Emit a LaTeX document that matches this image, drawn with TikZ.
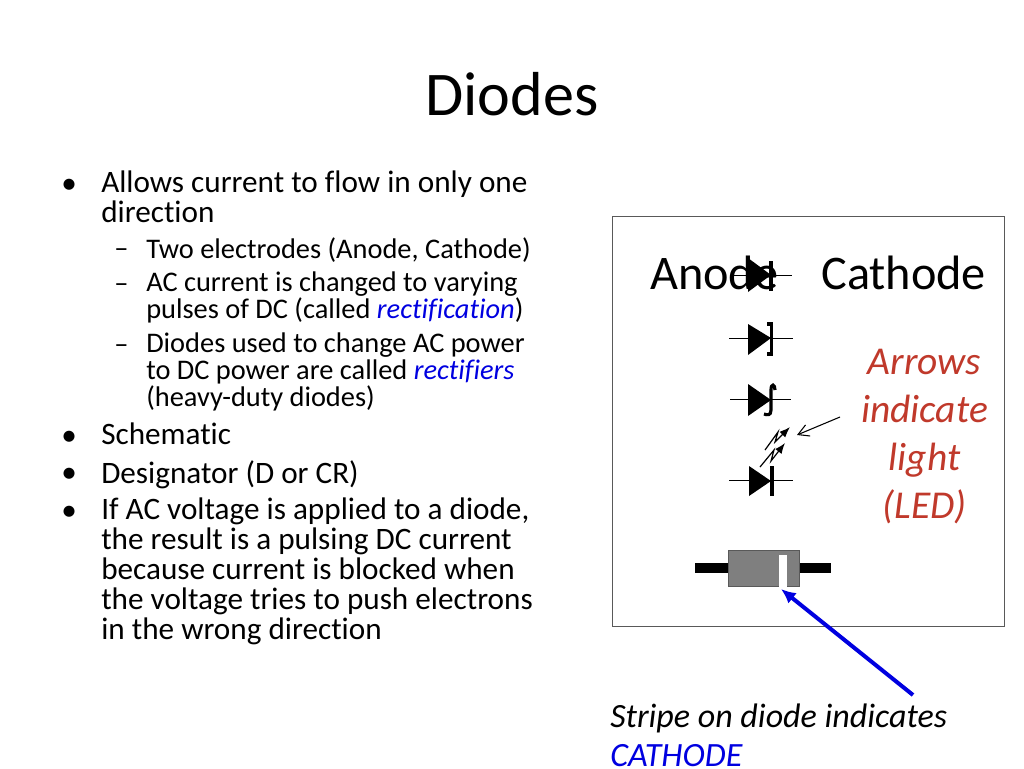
\documentclass[tikz,border=0pt]{standalone}
\usepackage{fontspec}
\setmainfont[Ligatures=NoCommon]{Carlito}
\usetikzlibrary{positioning,arrows.meta}
\definecolor{boxline}{HTML}{595959}
\definecolor{bodygray}{HTML}{7F7F7F}
\definecolor{redtext}{HTML}{C0392B}
\definecolor{bluetext}{HTML}{0000E0}
\tikzset{
	lvlone/.style={anchor=north west, inner sep=0pt, align=left, font=\fontsize{23.4}{22.5}\selectfont},
	lvltwo/.style={anchor=north west, inner sep=0pt, align=left, font=\fontsize{21.3}{20.25}\selectfont},
	bulletmark/.style={anchor=base west, inner sep=0pt, font=\fontsize{23.4}{22.5}\selectfont},
	dashmark/.style={anchor=base west, inner sep=0pt, font=\fontsize{21.3}{20.25}\selectfont},
	lead/.style={line width=0.7pt},
	tri/.style={fill=black},
	bar/.style={line width=3pt},
	lightray/.style={line width=0.9pt, -{Latex[length=8pt,width=6pt]}}
}
\begin{document}
\begin{tikzpicture}[x=0.75pt, y=-0.75pt]
	\useasboundingbox (0,0) rectangle (1024,768);
	\node [anchor=base, font=\fontsize{46.6}{46.6}\selectfont] (title) at (512,115) {Diodes};

	% left column
	\node [bulletmark] (b1) at (61,193) {•};
	\node [lvlone] (t1) at (101,171) {Allows current to flow in only one\\direction};
	\node [dashmark] (d1) at (114,257) {–};
	\node [lvltwo] (s1) at (146,237) {Two electrodes (Anode, Cathode)};
	\node [dashmark] (d2) at (114,292) {–};
	\node [lvltwo] (s2) at (146,272) {AC current is changed to varying\\pulses of DC (called \textcolor{bluetext}{\textit{rectification}})};
	\node [dashmark] (d3) at (114,353) {–};
	\node [lvltwo] (s3) at (146,333) {Diodes used to change AC power\\to DC power are called \textcolor{bluetext}{\textit{rectifiers}}\\(heavy-duty diodes)};
	\node [bulletmark] (b2) at (61,445) {•};
	\node [lvlone] (t2) at (101,423) {Schematic};
	\node [bulletmark] (b3) at (61,482) {•};
	\node [lvlone] (t3) at (101,460) {Designator (D or CR)};
	\node [bulletmark] (b4) at (61,520) {•};
	\node [lvlone] (t4) at (101,498) {If AC voltage is applied to a diode,\\the result is a pulsing DC current\\because current is blocked when\\the voltage tries to push electrons\\in the wrong direction};

	% right box
	\node [draw=boxline, line width=0.7pt, minimum width=294pt, minimum height=307.5pt, inner sep=0pt] (box) at (808,421) {};
	\node [anchor=base west, inner sep=0pt, font=\fontsize{36.2}{36.2}\selectfont] (anode) at (650,289) {Anode};
	\node [anchor=base west, inner sep=0pt, font=\fontsize{36.2}{36.2}\selectfont] (cathode) at (821,289) {Cathode};
	\node [align=center, inner sep=0pt, text=redtext, font=\fontsize{29.6}{36}\selectfont\itshape] (arrows) at (924.5,437) {Arrows\\indicate\\light\\(LED)};

	% plain diode
	\coordinate (a1) at (730,275);
	\coordinate (c1) at (792,275);
	\draw [lead] (a1) -- (c1);
	\fill [tri] (748,258) -- (771,275) -- (748,292) -- cycle;
	\draw [bar] (771,261) -- (771,291);
	% tunnel diode
	\coordinate (a2) at (729,338);
	\coordinate (c2) at (793,338);
	\draw [lead] (a2) -- (c2);
	\fill [tri] (748,324) -- (771,338) -- (748,355) -- cycle;
	\draw [line width=2.4pt] (767,324) -- (771.5,324) -- (771.5,354) -- (767,354);
	% zener diode
	\coordinate (a3) at (730,399);
	\coordinate (c3) at (791,399);
	\draw [lead] (a3) -- (c3);
	\fill [tri] (748,384) -- (771,400) -- (748,416) -- cycle;
	\draw [line width=2.4pt] (775,390) .. controls (775,384) and (771,383) .. (771,390) -- (771,410) .. controls (771,416) and (767,415) .. (764,414);
	% led
	\coordinate (a4) at (729,480);
	\coordinate (c4) at (793,480);
	\draw [lead] (a4) -- (c4);
	\fill [tri] (749,466) -- (771,481) -- (749,496) -- cycle;
	\draw [bar] (771.5,466) -- (771.5,496);
	\draw [lightray] (765,450) -- (778,432) -- (775,442) -- (790,427);
	\draw [lightray] (760,467) -- (774,450) -- (771,461) -- (785,443);
	\coordinate (ledtail) at (840,417);
	\coordinate (ledtip) at (797,435);
	\draw [line width=0.8pt, -{Straight Barb[length=8pt,width=9pt]}] (ledtail) -- (ledtip);

	% diode body
	\coordinate (leftend) at (695,568);
	\coordinate (rightend) at (831,568);
	\draw [line width=7.5pt] (leftend) -- (rightend);
	\node [draw=boxline, fill=bodygray, anchor=north west, inner sep=0pt, line width=0.8pt, minimum width=53pt, minimum height=27pt] (body) at (728,550) {};
	\fill [white] (779,555) rectangle (787,587);

	% label below
	\coordinate (stripe) at (781,589);
	\coordinate (tail) at (913,695);
	\draw [bluetext, line width=3pt, -{Latex[length=11pt,width=10pt]}] (tail) -- (stripe);
	\node [anchor=base west, inner sep=0pt, font=\fontsize{25.5}{25.5}\selectfont\itshape] (label) at (610,727) {Stripe on diode indicates};
	\node [anchor=base west, inner sep=0pt, text=bluetext, font=\fontsize{25.5}{25.5}\selectfont\itshape] (cath) at (610,766) {CATHODE};
\end{tikzpicture}
\end{document}
